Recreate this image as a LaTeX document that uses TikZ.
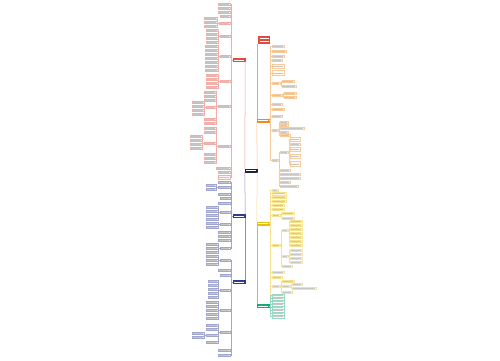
\documentclass[tikz,border=0pt]{standalone}
\definecolor{redM}{HTML}{E04A3F}
\definecolor{orangeM}{HTML}{F08C1E}
\definecolor{yellowM}{HTML}{E8BE10}
\definecolor{greenM}{HTML}{16A878}
\definecolor{blueM}{HTML}{2E3A94}
\definecolor{rootC}{HTML}{1E2438}
\tikzset{
  lf/.style={rectangle, inner sep=0pt, minimum height=2.6pt, fill=#1!5, draw=#1!45, line width=0.2pt,
    path picture={\draw[gray!45, line width=0.5pt] ([xshift=0.7pt]path picture bounding box.west) -- ([xshift=-0.7pt]path picture bounding box.east);}},
  cn/.style={draw=#1!45, line width=0.3pt},
  mainnode/.style={rectangle, inner sep=0pt, minimum width=12pt, minimum height=2.8pt, fill=#1, draw=#1,
    path picture={\draw[white, line width=0.5pt] ([xshift=1pt]path picture bounding box.west) -- ([xshift=-1pt]path picture bounding box.east);}},
  trunk/.style={draw=#1!55, line width=0.5pt}
}
\newcommand\Lk[7]{\node[lf=#6,minimum width=#5pt,anchor=east,#7] (#2) at (#3,#4) {};\draw[cn=#6] (#1.west) -- ++(-1.3,0) |- (#2.east);}
\newcommand\Rk[7]{\node[lf=#6,minimum width=#5pt,anchor=west,#7] (#2) at (#3,#4) {};\draw[cn=#6] (#1.east) -- ++(1.3,0) |- (#2.west);}
\begin{document}
\begin{tikzpicture}[x=1pt,y=-1pt]
\fill[white] (0,0) rectangle (500,360);
\useasboundingbox (0,0) rectangle (500,360);
% central and main nodes
\node[mainnode=rootC, minimum height=3pt] (root) at (251,170.5) {};
\node[rectangle, inner sep=0pt, minimum width=12pt, minimum height=8pt, fill=redM,
  path picture={\draw[white, line width=0.6pt] ([xshift=1.5pt,yshift=1.6pt]path picture bounding box.west) -- ([xshift=-1.5pt,yshift=1.6pt]path picture bounding box.east);
  \draw[white, line width=0.6pt] ([xshift=1.5pt,yshift=-1.2pt]path picture bounding box.west) -- ([xshift=-1.5pt,yshift=-1.2pt]path picture bounding box.east);}] (T) at (264,40) {};
\node[mainnode=redM] (R) at (239,59.8) {};
\node[mainnode=blueM] (B1) at (239,216) {};
\node[mainnode=blueM] (B2) at (239,282) {};
\node[mainnode=orangeM] (O) at (263,120.5) {};
\node[mainnode=yellowM] (Y) at (263,223.3) {};
\node[mainnode=greenM] (G) at (263,306) {};
% trunks
\draw[trunk=redM] (root.north west) -- (R.south east);
\draw[trunk=blueM] (root.south west) -- (B1.north east);
\draw[trunk=blueM] (B1.south east) -- (B2.north east);
\draw[trunk=orangeM] (root.north east) -- (O.south west);
\draw[trunk=redM] (O.north west) -- (O.north west |- T.south);
\draw[trunk=yellowM] (root.south east) -- (Y.north west);
\draw[trunk=greenM] (Y.south west) -- (G.north west);
% ---------------- red branch
\Lk{R}{r1}{230}{4}{12}{redM}{}
\Lk{R}{r2}{230}{8}{12}{redM}{}
\Lk{R}{r3}{230}{12}{12}{redM}{}
\Lk{R}{r4}{230}{16}{10}{redM}{}
\Lk{R}{ra}{230}{23}{11}{redM}{}
\foreach \yy [count=\k] in {18,22,26} {\Lk{ra}{ra\k}{217}{\yy}{13}{redM}{}}
\Lk{R}{rb}{230}{36}{10}{redM}{}
\foreach \yy [count=\k] in {30,34,38,42} {\Lk{rb}{rb\k}{218}{\yy}{12}{redM}{}}
\Lk{R}{rc}{230}{56}{10}{redM}{}
\foreach \yy [count=\k] in {46,50,54,58,62,66,70} {\Lk{rc}{rc\k}{218}{\yy}{13}{redM}{}}
\Lk{R}{rd}{230}{81}{10}{redM}{}
\foreach \yy [count=\k] in {75,79,83,87} {\Lk{rd}{rd\k}{218}{\yy}{12}{redM}{}}
\Lk{R}{re}{230}{106}{12}{redM}{}
\foreach \yy [count=\k] in {92,96,100,119,123} {\Lk{re}{re\k}{216}{\yy}{12}{redM}{}}
\Lk{re}{reb}{216}{107}{10}{redM}{}
\foreach \yy [count=\k] in {102,106,110,114} {\Lk{reb}{reb\k}{204}{\yy}{12}{redM}{}}
\Lk{R}{rf}{230}{146}{12}{redM}{}
\foreach \yy [count=\k] in {128,132,154,158,162} {\Lk{rf}{rf\k}{216}{\yy}{12}{redM}{}}
\Lk{rf}{rfb}{216}{143}{12}{redM}{}
\foreach \yy [count=\k] in {136,140,144,148} {\Lk{rfb}{rfb\k}{202}{\yy}{12}{redM}{}}
\Lk{R}{rg}{230}{168}{14}{redM}{}
\Lk{R}{rh}{230}{172}{12}{redM}{}
\Lk{R}{ri}{230}{177}{12}{redM}{minimum height=3.5pt}
% ---------------- blue branch 1
\Lk{B1}{b1}{230}{182}{12}{blueM}{}
\Lk{B1}{b2}{230}{187}{12}{blueM}{}
\foreach \yy [count=\k] in {185,189} {\Lk{b2}{b2\k}{216}{\yy}{10}{blueM}{}}
\Lk{B1}{b3}{230}{194}{12}{blueM}{}
\Lk{B1}{b4}{230}{198}{10}{blueM}{}
\Lk{B1}{b5}{230}{203}{12}{blueM}{}
\Lk{B1}{b6}{230}{212}{10}{blueM}{}
\foreach \yy [count=\k] in {207,211,215,219} {\Lk{b6}{b6\k}{218}{\yy}{12}{blueM}{}}
\Lk{B1}{b7}{230}{224}{10}{blueM}{}
\foreach \yy [count=\k] in {223,227} {\Lk{b7}{b7\k}{218}{\yy}{12}{blueM}{}}
\Lk{B1}{b8}{230}{232}{12}{blueM}{}
\Lk{B1}{b9}{230}{236}{12}{blueM}{}
\Lk{B1}{b10}{230}{240}{12}{blueM}{}
\Lk{B1}{b11}{230}{248}{10}{blueM}{}
\foreach \yy [count=\k] in {244,248,252} {\Lk{b11}{b11\k}{218}{\yy}{12}{blueM}{}}
% ---------------- blue branch 2
\Lk{B2}{c1}{230}{260}{10}{blueM}{}
\foreach \yy [count=\k] in {256,260,264} {\Lk{c1}{c1\k}{218}{\yy}{12}{blueM}{}}
\Lk{B2}{c2}{230}{270}{12}{blueM}{}
\Lk{B2}{c3}{230}{275}{10}{blueM}{}
\Lk{B2}{c4}{230}{290}{10}{blueM}{}
\foreach \yy [count=\k] in {281,285,289,293,297} {\Lk{c4}{c4\k}{218}{\yy}{10}{blueM}{}}
\Lk{B2}{c5}{230}{310}{10}{blueM}{}
\foreach \yy [count=\k] in {302,306,310,314,318} {\Lk{c5}{c5\k}{218}{\yy}{12}{blueM}{}}
\Lk{B2}{c6}{230}{332}{10}{blueM}{}
\foreach \yy [count=\k] in {325,329,342} {\Lk{c6}{c6\k}{218}{\yy}{12}{blueM}{}}
\Lk{c6}{c6c}{218}{335}{12}{blueM}{}
\foreach \yy [count=\k] in {333,337} {\Lk{c6c}{c6c\k}{204}{\yy}{12}{blueM}{}}
\Lk{B2}{c7}{230}{350}{12}{blueM}{}
\Lk{B2}{c8}{230}{355}{12}{blueM}{}
% ---------------- orange branch
\Rk{O}{o1}{271.5}{46}{12}{orangeM}{}
\Rk{O}{o2}{271.5}{51}{14}{orangeM}{}
\Rk{O}{o3}{271.5}{56}{12}{orangeM}{}
\Rk{O}{o4}{271.5}{60}{10}{orangeM}{}
\Rk{O}{o5}{271.5}{66}{12}{orangeM}{minimum height=4pt}
\Rk{O}{o6}{271.5}{73}{12}{orangeM}{minimum height=5pt}
\Rk{O}{o7}{271.5}{83}{8}{orangeM}{}
\Rk{o7}{o71}{281.5}{81}{12}{orangeM}{}
\Rk{o7}{o72}{281.5}{86}{14}{orangeM}{}
\Rk{O}{o8}{271.5}{95}{10}{orangeM}{}
\Rk{o8}{o81}{283.5}{93}{12}{orangeM}{}
\Rk{o8}{o82}{283.5}{97}{12}{orangeM}{}
\Rk{O}{o9}{271.5}{104}{10}{orangeM}{}
\Rk{O}{o10}{271.5}{109}{12}{orangeM}{}
\Rk{O}{o11}{271.5}{116}{10}{orangeM}{}
\Rk{O}{o12}{271.5}{130}{6}{orangeM}{}
\Rk{o12}{o121}{279.5}{122}{8}{orangeM}{}
\Rk{o12}{o122}{279.5}{125}{8}{orangeM}{}
\Rk{o12}{o123}{279.5}{128}{24}{orangeM}{}
\Rk{o12}{o124}{279.5}{132}{8}{orangeM}{}
\Rk{o12}{o125}{279.5}{135}{10}{orangeM}{}
\Rk{O}{o13}{271.5}{160}{6}{orangeM}{}
\Rk{o13}{p1}{279.5}{152}{8}{orangeM}{}
\Rk{p1}{p11}{289.5}{139}{10}{orangeM}{minimum height=4pt}
\Rk{p1}{p12}{289.5}{144}{10}{orangeM}{}
\Rk{p1}{p13}{289.5}{149}{10}{orangeM}{minimum height=4pt}
\Rk{p1}{p14}{289.5}{156}{10}{orangeM}{minimum height=4pt}
\Rk{p1}{p15}{289.5}{164}{10}{orangeM}{minimum height=5pt}
\Rk{o13}{o131}{279.5}{170}{10}{orangeM}{}
\Rk{o13}{o132}{279.5}{174}{20}{orangeM}{}
\Rk{o13}{o133}{279.5}{178}{20}{orangeM}{}
\Rk{o13}{o134}{279.5}{182}{10}{orangeM}{}
\Rk{o13}{o135}{279.5}{186}{18}{orangeM}{}
% ---------------- yellow branch
\Rk{Y}{y1}{271.5}{190}{6}{yellowM}{}
\Rk{Y}{y2}{271.5}{193.5}{14}{yellowM}{}
\Rk{Y}{y3}{271.5}{197}{14}{yellowM}{}
\Rk{Y}{y4}{271.5}{201}{14}{yellowM}{}
\Rk{Y}{y5}{271.5}{205}{12}{yellowM}{}
\Rk{Y}{y6}{271.5}{209}{12}{yellowM}{}
\Rk{Y}{ya}{271.5}{215}{8}{yellowM}{}
\Rk{ya}{ya1}{281.5}{213}{12}{yellowM}{}
\Rk{ya}{ya2}{281.5}{218}{12}{yellowM}{}
\Rk{Y}{yb}{271.5}{245}{8}{yellowM}{}
\Rk{yb}{z1}{281.5}{230}{6}{yellowM}{}
\foreach \yy [count=\k] in {221,225,229,233,237,241,245} {\Rk{z1}{z1\k}{289.5}{\yy}{12}{yellowM}{}}
\Rk{yb}{z2}{281.5}{256}{6}{yellowM}{}
\foreach \yy [count=\k] in {250,254,258,262} {\Rk{z2}{z2\k}{289.5}{\yy}{12}{yellowM}{}}
\Rk{yb}{yb3}{281.5}{266}{10}{yellowM}{}
\Rk{Y}{y7}{271.5}{272}{12}{yellowM}{}
\Rk{Y}{y8}{271.5}{277}{10}{yellowM}{}
\Rk{Y}{yc}{271.5}{286}{8}{yellowM}{}
\Rk{yc}{yc1}{281.5}{281}{12}{yellowM}{}
\Rk{yc}{z3}{281.5}{286}{8}{yellowM}{}
\Rk{z3}{z31}{291.5}{284}{10}{yellowM}{}
\Rk{z3}{z32}{291.5}{288}{24}{yellowM}{}
\Rk{yc}{yc3}{281.5}{292}{10}{yellowM}{}
\Rk{Y}{y9}{271.5}{296}{6}{yellowM}{}
% ---------------- green branch
\foreach \yy [count=\k] in {295.5,298.5,301.5,304.5,307.5,310.5,313.5,316.5} {\Rk{G}{g\k}{271.5}{\yy}{12}{greenM}{}}
\end{tikzpicture}
\end{document}
